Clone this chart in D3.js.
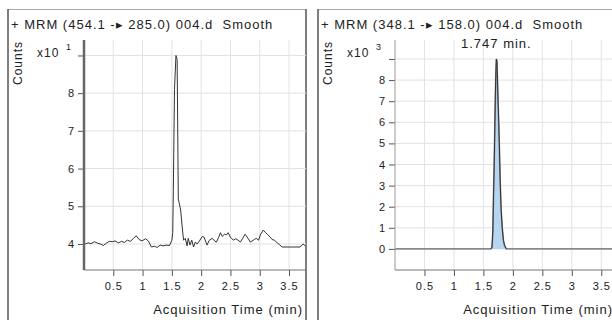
<!DOCTYPE html>
<html>
<head>
<meta charset="utf-8">
<script src="https://cdn.jsdelivr.net/npm/d3@7"></script>
<style>
  body { margin: 0; background: #fff; }
  svg text { font-family: "Liberation Sans", Arial, sans-serif; fill: #222; letter-spacing: 1px; white-space: pre; }
</style>
</head>
<body>
<div class="visHolder"></div>
<script>
const width = 612;
const height = 320;

// left chromatogram, counts x10^1
const leftTitle = '+ MRM (454.1 -\u25B8 285.0) 004.d  Smooth';
const leftTimes = [0.02,0.07,0.12,0.18,0.23,0.28,0.33,0.38,0.43,0.48,0.53,0.59,0.64,0.69,0.74,0.79,0.84,0.89,0.94,0.99,
  1.05,1.10,1.15,1.20,1.25,1.30,1.35,1.40,1.46,1.50,1.515,1.525,1.545,1.57,1.59,1.61,1.65,1.68,1.70,1.73,
  1.76,1.78,1.81,1.84,1.87,1.90,1.93,1.97,2.02,2.05,2.10,2.14,2.19,2.23,2.26,2.30,2.33,2.36,2.40,2.43,
  2.46,2.50,2.55,2.59,2.63,2.67,2.71,2.75,2.80,2.84,2.87,2.91,2.94,2.98,3.01,3.06,3.10,3.13,3.18,3.21,
  3.25,3.30,3.34,3.38,3.45,3.52,3.60,3.69,3.74,3.78];
const leftCounts = [4.00,4.03,4.01,4.06,4.02,4.00,3.96,4.02,4.07,4.06,4.08,4.03,4.07,4.04,4.10,4.07,4.14,4.22,4.12,4.08,
  4.14,4.08,3.92,3.94,3.91,3.97,3.95,3.97,3.96,4.10,4.30,5.40,8.10,9.00,8.90,5.20,4.90,4.40,4.10,4.15,
  3.95,4.15,3.97,4.10,3.92,4.05,4.00,4.08,4.20,4.18,3.97,4.10,4.15,4.08,4.05,4.18,4.30,4.20,4.26,4.24,
  4.30,4.18,4.10,4.14,4.10,4.05,4.15,4.26,4.15,4.05,4.08,4.12,4.15,4.10,4.24,4.37,4.30,4.26,4.18,4.12,
  4.10,4.03,3.98,3.92,3.92,3.92,3.92,3.92,4.00,3.95];
const leftYTicks = [4, 5, 6, 7, 8, 9];
const leftExp = '1';

// right chromatogram, counts x10^3
const rightTitle = '+ MRM (348.1 -\u25B8 158.0) 004.d  Smooth';
const rightTimes = [0.00,0.50,1.00,1.50,1.62,1.645,1.66,1.67,1.68,1.69,1.70,1.71,1.72,1.73,1.745,1.76,1.77,1.785,1.80,1.82,1.84,1.86,1.89,2.00,2.50,3.00,3.50,3.74];
const rightCounts = [0,0,0,0,0,0.05,0.8,2.3,3.6,5.1,6.8,8.2,9.0,8.9,7.4,6.0,5.0,3.2,1.9,1.0,0.4,0.15,0,0,0,0,0,0];
const rightYTicks = [0, 1, 2, 3, 4, 5, 6, 7, 8, 9];
const rightExp = '3';
const peakLabel = '1.747 min.';

const xTicks = [0.5, 1, 1.5, 2, 2.5, 3, 3.5];
const xLabel = 'Acquisition Time (min)';

const svg = d3.select('.visHolder')
  .append('svg')
  .attr('width', width)
  .attr('height', height);

function drawPanel(opt) {
  const g = svg.append('g');

  // frame
  g.append('line').attr('x1', opt.left).attr('x2', opt.right).attr('y1', 9.5).attr('y2', 9.5)
    .attr('stroke', '#aaa').attr('stroke-width', 1);
  g.append('line').attr('x1', opt.left).attr('x2', opt.left).attr('y1', 9).attr('y2', height)
    .attr('stroke', '#555').attr('stroke-width', 1.5);
  g.append('line').attr('x1', opt.right).attr('x2', opt.right).attr('y1', 9).attr('y2', height)
    .attr('stroke', '#555').attr('stroke-width', 1.5);

  g.append('text').attr('x', opt.left + 3).attr('y', 29)
    .style('font-size', '13px').text(opt.title);

  const x = d3.scaleLinear().domain(opt.xDomain).range([opt.x0, opt.x1]);
  const y = d3.scaleLinear().domain(opt.yDomain).range([270, 40]);

  // grid
  g.append('g').selectAll('line').data(xTicks).enter().append('line')
    .attr('x1', d => x(d)).attr('x2', d => x(d)).attr('y1', 40).attr('y2', 270)
    .attr('stroke', '#e2e2e2');
  g.append('g').selectAll('line').data(opt.yTicks).enter().append('line')
    .attr('x1', opt.x0).attr('x2', opt.x1).attr('y1', d => y(d)).attr('y2', d => y(d))
    .attr('stroke', '#e2e2e2');

  // trace
  const pts = opt.times.map((t, i) => [t, opt.counts[i]]);
  if (opt.fill) {
    const peak = pts.filter(p => p[0] > 1.6 && p[0] < 1.9);
    g.append('path').datum(peak)
      .attr('d', d3.area().x(d => x(d[0])).y0(y(0)).y1(d => y(d[1])))
      .attr('fill', '#b5d5f3');
    g.append('path').datum(pts)
      .attr('d', d3.line().x(d => x(d[0])).y(d => y(d[1])))
      .attr('fill', 'none').attr('stroke', '#8a8a8a').attr('stroke-width', 1.6);
    g.append('path').datum(peak)
      .attr('d', d3.line().x(d => x(d[0])).y(d => y(d[1])))
      .attr('fill', 'none').attr('stroke', '#333').attr('stroke-width', 1);
  } else {
    g.append('path').datum(pts)
      .attr('d', d3.line().x(d => x(d[0])).y(d => y(d[1])))
      .attr('fill', 'none').attr('stroke', '#333').attr('stroke-width', 1);
  }

  // axes
  const yAxis = d3.axisLeft(y).tickValues(opt.yTicks).tickSize(6).tickPadding(3)
    .tickFormat(d => d === 9 ? '' : d);
  const ya = g.append('g').attr('transform', `translate(${opt.x0},0)`).call(yAxis);
  ya.select('.domain').remove();
  ya.selectAll('line').attr('stroke', '#555');
  ya.selectAll('text').style('font-size', '11px').attr('fill', '#222');

  const xAxis = d3.axisBottom(x).tickValues(xTicks).tickSize(6).tickPadding(6)
    .tickFormat(d => d);
  const xa = g.append('g').attr('transform', 'translate(0,270)').call(xAxis);
  xa.select('.domain').remove();
  xa.selectAll('line').attr('stroke', '#555');
  xa.selectAll('text').style('font-size', '11px').attr('fill', '#222');

  g.append('line').attr('x1', opt.x0).attr('x2', opt.x1).attr('y1', 270).attr('y2', 270)
    .attr('stroke', '#777').attr('stroke-width', 1.2);
  g.append('line').attr('x1', opt.x0).attr('x2', opt.x0).attr('y1', 40).attr('y2', 270)
    .attr('stroke', opt.axisColor).attr('stroke-width', opt.axisWidth);

  g.append('text').attr('text-anchor', 'end').attr('x', opt.right - 3).attr('y', 314)
    .style('font-size', '13px').text(xLabel);

  g.append('text').attr('transform', `translate(${opt.left + 14},63) rotate(-90)`)
    .attr('text-anchor', 'middle').style('font-size', '12px').text('Counts');
  g.append('text').attr('x', opt.left + 29).attr('y', 57).style('font-size', '12px').text('x10');
  g.append('text').attr('x', opt.left + 58).attr('y', 50).style('font-size', '9px').text(opt.exp);

  if (opt.label) {
    const top = pts.reduce((a, b) => (b[1] > a[1] ? b : a));
    g.append('text').attr('text-anchor', 'middle').attr('x', x(top[0])).attr('y', 48)
      .style('font-size', '13px').text(opt.label);
  }
}

drawPanel({
  title: leftTitle, times: leftTimes, counts: leftCounts, yTicks: leftYTicks, exp: leftExp,
  left: 8, right: 306, x0: 84, x1: 306, xDomain: [0, 3.79], yDomain: [3.31, 9.41],
  axisColor: '#666', axisWidth: 2.5
});

drawPanel({
  title: rightTitle, times: rightTimes, counts: rightCounts, yTicks: rightYTicks, exp: rightExp,
  left: 318, right: 616, x0: 395, x1: 616, xDomain: [0, 3.75], yDomain: [-1.0, 9.9],
  axisColor: '#999', axisWidth: 1, fill: true, label: peakLabel
});
</script>
</body>
</html>
